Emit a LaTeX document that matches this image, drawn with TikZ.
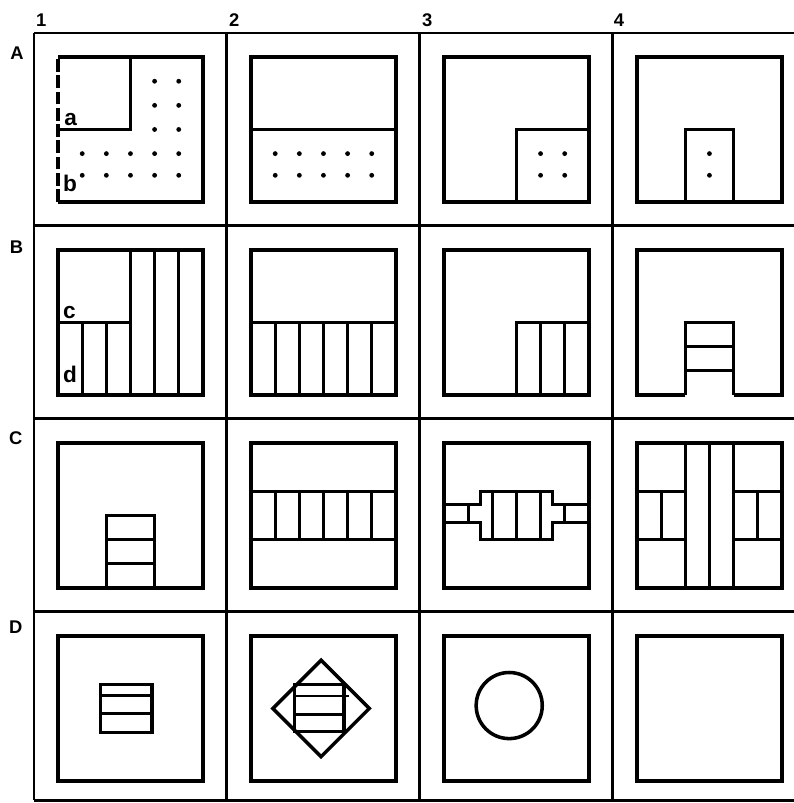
\documentclass[tikz,border=0pt]{standalone}
\usepackage{fontspec}
\setmainfont{Liberation Sans}

\begin{document}
\begin{tikzpicture}[x=0.6cm, y=0.6cm,
    frame/.style={line width=2.1pt},
    room/.style={line width=2.5pt},
    part/.style={line width=1.9pt},
    openside/.style={line width=2.5pt, dash pattern=on 9pt off 2.5pt},
    gridlabel/.style={font=\bfseries\fontsize{13}{13}\selectfont, inner sep=0pt},
    tag/.style={font=\bfseries\fontsize{16}{16}\selectfont, inner sep=0pt, anchor=base west}
]

\useasboundingbox (-1.409,1.368) rectangle (31.50,-31.92);
\clip (-1.409,1.368) rectangle (31.50,-31.92);

% Grid
\draw[frame] (0,0) -- (32,0);
\draw[frame] (0,-8) -- (32,-8);
\draw[frame] (0,-16) -- (32,-16);
\draw[frame] (0,-24) -- (32,-24);
\draw[frame] (0,-31.8) -- (32,-31.8);
\draw[frame] (0,0) -- (0,-31.8);
\draw[frame] (8,0) -- (8,-31.8);
\draw[frame] (16,0) -- (16,-31.8);
\draw[frame] (24,0) -- (24,-31.8);

% Column and row labels
\node[gridlabel] (col1) at (0.3,0.55) {1};
\node[gridlabel] (col2) at (8.3,0.55) {2};
\node[gridlabel] (col3) at (16.3,0.55) {3};
\node[gridlabel] (col4) at (24.25,0.55) {4};
\node[gridlabel] (rowA) at (-0.7,-0.85) {A};
\node[gridlabel] (rowB) at (-0.72,-8.88) {B};
\node[gridlabel] (rowC) at (-0.76,-16.78) {C};
\node[gridlabel] (rowD) at (-0.76,-24.65) {D};

% Row A
\begin{scope}[shift={(1,-7)}]
  \draw[room] (0,6) -- (6,6) -- (6,0) -- (0,0);
  \draw[openside] (0,0) -- (0,6);
  \draw[room] (0,3) -- (3,3) -- (3,6);
  \fill (4,5) circle (0.06cm) (5,5) circle (0.06cm)
        (4,4) circle (0.06cm) (5,4) circle (0.06cm)
        (4,3) circle (0.06cm) (5,3) circle (0.06cm)
        (1,2) circle (0.06cm) (2,2) circle (0.06cm) (3,2) circle (0.06cm)
        (4,2) circle (0.06cm) (5,2) circle (0.06cm)
        (1,1.1) circle (0.06cm) (2,1.1) circle (0.06cm) (3,1.1) circle (0.06cm)
        (4,1.1) circle (0.06cm) (5,1.1) circle (0.06cm);
  \node[tag] (tagA) at (0.25,3.15) {a};
  \node[tag] (tagB) at (0.2,0.45) {b};
\end{scope}

\begin{scope}[shift={(9,-7)}]
  \draw[room] (0,0) rectangle (6,6);
  \draw[room] (0,3) -- (6,3);
  \fill (1,2) circle (0.06cm) (2,2) circle (0.06cm) (3,2) circle (0.06cm)
        (4,2) circle (0.06cm) (5,2) circle (0.06cm)
        (1,1.1) circle (0.06cm) (2,1.1) circle (0.06cm) (3,1.1) circle (0.06cm)
        (4,1.1) circle (0.06cm) (5,1.1) circle (0.06cm);
\end{scope}

\begin{scope}[shift={(17,-7)}]
  \draw[room] (0,0) rectangle (6,6);
  \draw[room] (3,0) -- (3,3) -- (6,3);
  \fill (4,2) circle (0.06cm) (5,2) circle (0.06cm)
        (4,1.1) circle (0.06cm) (5,1.1) circle (0.06cm);
\end{scope}

\begin{scope}[shift={(25,-7)}]
  \draw[room] (0,0) rectangle (6,6);
  \draw[room] (2,0) rectangle (4,3);
  \fill (3,2) circle (0.06cm) (3,1.1) circle (0.06cm);
\end{scope}

% Row B
\begin{scope}[shift={(1,-15)}]
  \draw[room] (0,0) rectangle (6,6);
  \draw[room] (0,3) -- (3,3);
  \draw[part] (1,0) -- (1,3);
  \draw[part] (2,0) -- (2,3);
  \draw[room] (3,0) -- (3,6);
  \draw[part] (4,0) -- (4,6);
  \draw[part] (5,0) -- (5,6);
  \node[tag] (tagC) at (0.2,3.15) {c};
  \node[tag] (tagD) at (0.2,0.5) {d};
\end{scope}

\begin{scope}[shift={(9,-15)}]
  \draw[room] (0,0) rectangle (6,6);
  \draw[room] (0,3) -- (6,3);
  \draw[part] (1,0) -- (1,3);
  \draw[part] (2,0) -- (2,3);
  \draw[part] (3,0) -- (3,3);
  \draw[part] (4,0) -- (4,3);
  \draw[part] (5,0) -- (5,3);
\end{scope}

\begin{scope}[shift={(17,-15)}]
  \draw[room] (0,0) rectangle (6,6);
  \draw[room] (3,0) -- (3,3) -- (6,3);
  \draw[part] (4,0) -- (4,3);
  \draw[part] (5,0) -- (5,3);
\end{scope}

\begin{scope}[shift={(25,-15)}]
  \draw[room] (2,0) -- (0,0) -- (0,6) -- (6,6) -- (6,0) -- (4,0);
  \draw[room] (2,0) -- (2,3) -- (4,3) -- (4,0);
  \draw[part] (2,2) -- (4,2);
  \draw[part] (2,1) -- (4,1);
\end{scope}

% Row C
\begin{scope}[shift={(1,-23)}]
  \draw[room] (0,0) rectangle (6,6);
  \draw[room] (2,0) rectangle (4,3);
  \draw[part] (2,2) -- (4,2);
  \draw[part] (2,1) -- (4,1);
\end{scope}

\begin{scope}[shift={(9,-23)}]
  \draw[room] (0,0) rectangle (6,6);
  \draw[room] (0,4) -- (6,4);
  \draw[room] (0,2) -- (6,2);
  \draw[part] (1,2) -- (1,4);
  \draw[part] (2,2) -- (2,4);
  \draw[part] (3,2) -- (3,4);
  \draw[part] (4,2) -- (4,4);
  \draw[part] (5,2) -- (5,4);
\end{scope}

\begin{scope}[shift={(17,-23)}]
  \draw[room] (0,0) rectangle (6,6);
  \draw[room] (0,3.45) -- (1.5,3.45) -- (1.5,4) -- (4.5,4) -- (4.5,3.45) -- (6,3.45);
  \draw[room] (0,2.7) -- (1.5,2.7) -- (1.5,2) -- (4.5,2) -- (4.5,2.7) -- (6,2.7);
  \draw[part] (1,2.7) -- (1,3.45);
  \draw[part] (5,2.7) -- (5,3.45);
  \draw[part] (2,2) -- (2,4);
  \draw[part] (3,2) -- (3,4);
  \draw[part] (4,2) -- (4,4);
\end{scope}

\begin{scope}[shift={(25,-23)}]
  \draw[room] (0,0) rectangle (6,6);
  \draw[room] (2,0) -- (2,6);
  \draw[part] (3,0) -- (3,6);
  \draw[room] (4,0) -- (4,6);
  \draw[room] (0,4) -- (2,4);
  \draw[room] (0,2) -- (2,2);
  \draw[part] (1,2) -- (1,4);
  \draw[room] (4,4) -- (6,4);
  \draw[room] (4,2) -- (6,2);
  \draw[part] (5,2) -- (5,4);
\end{scope}

% Row D
\begin{scope}[shift={(1,-31)}]
  \draw[room] (0,0) rectangle (6,6);
  \draw[room] (1.75,2) rectangle (3.9,4);
  \draw[part] (1.75,3.55) -- (3.9,3.55);
  \draw[part] (1.75,2.8) -- (3.9,2.8);
\end{scope}

\begin{scope}[shift={(9,-31)}]
  \draw[room] (0,0) rectangle (6,6);
  \draw[room] (2.9,5) -- (4.9,3) -- (2.9,1) -- (0.9,3) -- cycle;
  \draw[room] (1.8,2.05) rectangle (3.85,4);
  \draw[part] (1.8,3.52) -- (4.05,3.52);
  \draw[part] (1.8,2.75) -- (3.85,2.75);
\end{scope}

\begin{scope}[shift={(17,-31)}]
  \draw[room] (0,0) rectangle (6,6);
  \draw[room] (2.7,3.12) circle (1.37);
\end{scope}

\begin{scope}[shift={(25,-31)}]
  \draw[room] (0,0) rectangle (6,6);
\end{scope}

\end{tikzpicture}
\end{document}
